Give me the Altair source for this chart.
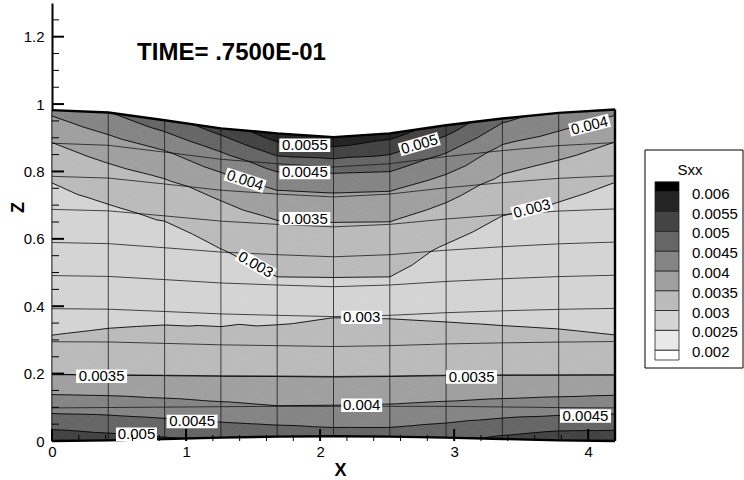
import numpy as np
import pandas as pd
import altair as alt

# ---------------- data ----------------
X_NODES = [0.00, 0.42, 0.84, 1.26, 1.68, 2.10, 2.52, 2.94, 3.36, 3.78, 4.20]
Z_BOTTOM = [0.000, 0.002, 0.006, 0.010, 0.013, 0.014, 0.013, 0.010, 0.006, 0.002, 0.000]
Z_TOP = [0.982, 0.975, 0.952, 0.928, 0.913, 0.902, 0.913, 0.937, 0.957, 0.974, 0.984]
ROW_FRACTION = [0.0, 0.1, 0.2, 0.3, 0.4, 0.5, 0.6, 0.7, 0.8, 0.9, 1.0]

# Sxx at the mesh nodes, one list per mesh column, bottom -> top
SXX_COL_0 = [0.00535, 0.00433, 0.00351, 0.00305, 0.00280, 0.00275, 0.00275, 0.00280, 0.00305, 0.00349, 0.00411]
SXX_COL_1 = [0.00520, 0.00429, 0.00349, 0.00310, 0.00286, 0.00274, 0.00272, 0.00293, 0.00328, 0.00377, 0.00448]
SXX_COL_2 = [0.00505, 0.00420, 0.00349, 0.00315, 0.00289, 0.00272, 0.00270, 0.00306, 0.00341, 0.00396, 0.00480]
SXX_COL_3 = [0.00490, 0.00410, 0.00349, 0.00310, 0.00293, 0.00272, 0.00297, 0.00327, 0.00362, 0.00428, 0.00520]
SXX_COL_4 = [0.00480, 0.00401, 0.00349, 0.00322, 0.00290, 0.00293, 0.00319, 0.00344, 0.00390, 0.00472, 0.00580]
SXX_COL_5 = [0.00470, 0.00402, 0.00349, 0.00324, 0.00299, 0.00292, 0.00318, 0.00343, 0.00390, 0.00466, 0.00590]
SXX_COL_6 = [0.00470, 0.00404, 0.00349, 0.00323, 0.00297, 0.00293, 0.00319, 0.00346, 0.00393, 0.00470, 0.00570]
SXX_COL_7 = [0.00485, 0.00410, 0.00349, 0.00319, 0.00292, 0.00275, 0.00293, 0.00328, 0.00370, 0.00440, 0.00530]
SXX_COL_8 = [0.00510, 0.00418, 0.00349, 0.00314, 0.00288, 0.00273, 0.00272, 0.00301, 0.00337, 0.00386, 0.00460]
SXX_COL_9 = [0.00530, 0.00425, 0.00349, 0.00310, 0.00285, 0.00274, 0.00272, 0.00292, 0.00321, 0.00373, 0.00434]
SXX_COL_10 = [0.00533, 0.00431, 0.00349, 0.00305, 0.00280, 0.00275, 0.00275, 0.00280, 0.00305, 0.00349, 0.00411]

LEVELS = [0.002, 0.0025, 0.003, 0.0035, 0.004, 0.0045, 0.005, 0.0055, 0.006]
LEVEL_TEXT = ["0.002", "0.0025", "0.003", "0.0035", "0.004", "0.0045", "0.005", "0.0055", "0.006"]
BAND_COLORS = ["#ffffff", "#e8e8e8", "#d4d4d4", "#bbbbbb", "#a0a0a0",
               "#858585", "#666666", "#444444", "#242424", "#000000"]

LABEL_TEXT = ["0.0055", "0.0045", "0.0035", "0.004", "0.003", "0.005", "0.004", "0.003",
              "0.003", "0.0035", "0.0035", "0.004", "0.0045", "0.0045", "0.005"]
LABEL_X = [1.886, 1.886, 1.886, 1.44, 1.52, 2.74, 4.01, 3.58,
           2.31, 0.37, 3.13, 2.31, 3.98, 1.045, 0.63]
LABEL_Z = [0.878, 0.797, 0.660, 0.774, 0.524, 0.881, 0.937, 0.690,
           0.367, 0.192, 0.190, 0.106, 0.074, 0.058, 0.020]
LABEL_ANGLE = [0, 0, 0, 18, 30, 344, 346, 345, 0, 0, 0, 0, 0, 0, 0]

X_TICKS = [0, 1, 2, 3, 4]
X_MINOR = [0.2, 0.4, 0.6, 0.8, 1.2, 1.4, 1.6, 1.8, 2.2, 2.4, 2.6, 2.8,
           3.2, 3.4, 3.6, 3.8]
Z_TICKS = [0, 0.2, 0.4, 0.6, 0.8, 1.0, 1.2]
Z_MINOR = [0.05, 0.1, 0.15, 0.25, 0.3, 0.35, 0.45, 0.5, 0.55, 0.65, 0.7, 0.75,
           0.85, 0.9, 0.95, 1.05, 1.1, 1.15, 1.25]

TITLE = "TIME= .7500E-01"
TITLE_POS = (0.635, 1.131)

# ---------------- geometry ----------------
FONT = "Liberation Sans"
W, H = 563, 438

SXX = np.array([SXX_COL_0, SXX_COL_1, SXX_COL_2, SXX_COL_3, SXX_COL_4, SXX_COL_5,
                SXX_COL_6, SXX_COL_7, SXX_COL_8, SXX_COL_9, SXX_COL_10])
xn = np.array(X_NODES)
zb = np.array(Z_BOTTOM)
zt = np.array(Z_TOP)
fr = np.array(ROW_FRACTION)
ZN = zb[:, None] + (zt - zb)[:, None] * fr[None, :]
XN = np.repeat(xn[:, None], len(fr), axis=1)
ni, nj = ZN.shape

# split every quad into four triangles around its centre
tris = []
for i in range(ni - 1):
    for j in range(nj - 1):
        cs = [(i, j), (i + 1, j), (i + 1, j + 1), (i, j + 1)]
        pts = [(XN[a, b], ZN[a, b], SXX[a, b]) for a, b in cs]
        c = tuple(float(np.mean([p[k] for p in pts])) for k in range(3))
        for k in range(4):
            tris.append([pts[k], pts[(k + 1) % 4], c])


def clip(poly, level, keep_above):
    out = []
    n = len(poly)
    for k in range(n):
        a = poly[k]
        b = poly[(k + 1) % n]
        ina = a[2] >= level if keep_above else a[2] <= level
        inb = b[2] >= level if keep_above else b[2] <= level
        if ina:
            out.append(a)
        if ina != inb:
            t = (level - a[2]) / (b[2] - a[2])
            out.append((a[0] + t * (b[0] - a[0]), a[1] + t * (b[1] - a[1]), level))
    return out


edges = [-np.inf] + LEVELS + [np.inf]
poly_rows = []
pid = 0
for tri in tris:
    for b in range(len(BAND_COLORS)):
        poly = tri
        if np.isfinite(edges[b]):
            poly = clip(poly, edges[b], True)
        if len(poly) >= 3 and np.isfinite(edges[b + 1]):
            poly = clip(poly, edges[b + 1], False)
        if len(poly) >= 3:
            for o, p in enumerate(poly):
                poly_rows.append({"pid": pid, "ord": o, "x": p[0], "z": p[1],
                                  "color": BAND_COLORS[b]})
            pid += 1
poly_df = pd.DataFrame(poly_rows)

seg_rows = []
for tri in tris:
    for L in LEVELS:
        pts = []
        for a, b in [(0, 1), (1, 2), (2, 0)]:
            A, B = tri[a], tri[b]
            if (A[2] < L) != (B[2] < L):
                t = (L - A[2]) / (B[2] - A[2])
                pts.append((A[0] + t * (B[0] - A[0]), A[1] + t * (B[1] - A[1])))
        if len(pts) == 2:
            seg_rows.append({"x": pts[0][0], "z": pts[0][1], "x2": pts[1][0], "z2": pts[1][1]})
seg_df = pd.DataFrame(seg_rows)

mesh_rows = []
for i in range(ni):
    for j in range(nj):
        mesh_rows.append({"id": f"v{i}", "ord": j, "x": XN[i, j], "z": ZN[i, j]})
for j in range(1, nj - 1):
    for i in range(ni):
        mesh_rows.append({"id": f"h{j}", "ord": i, "x": XN[i, j], "z": ZN[i, j]})
mesh_df = pd.DataFrame(mesh_rows)

bnd_rows = []
for i in range(ni):
    bnd_rows.append({"id": "top", "ord": i, "x": XN[i, nj - 1], "z": ZN[i, nj - 1]})
    bnd_rows.append({"id": "bottom", "ord": i, "x": XN[i, 0], "z": ZN[i, 0]})
for j in range(nj):
    bnd_rows.append({"id": "right", "ord": j, "x": XN[ni - 1, j], "z": ZN[ni - 1, j]})
bnd_df = pd.DataFrame(bnd_rows)

label_df = pd.DataFrame({"t": LABEL_TEXT, "x": LABEL_X, "z": LABEL_Z, "a": LABEL_ANGLE})
label_df["n"] = label_df["t"].str.len()

# ---------------- chart ----------------
xs = alt.Scale(domain=[0, 4.2], nice=False, zero=False)
zs = alt.Scale(domain=[0, 1.3], nice=False, zero=False)

x_axis = alt.Axis(values=X_TICKS, format="~g", ticks=False, tickSize=0, grid=False,
                  domain=False,
                  labelFont=FONT, labelFontSize=15, labelColor="black", labelPadding=3,
                  labelFlush=False, labelOverlap=False,
                  title="X", titleFont=FONT, titleFontSize=18, titleFontWeight="bold",
                  titleColor="black", titleX=288, titleY=29, titleBaseline="middle",
                  titleAlign="center")
z_axis = alt.Axis(values=Z_TICKS, format="~g", ticks=False, tickSize=0, grid=False,
                  domain=True, domainColor="black", domainWidth=2,
                  labelFont=FONT, labelFontSize=15, labelColor="black", labelPadding=8,
                  labelFlush=False, labelOverlap=False,
                  title="Z", titleFont=FONT, titleFontSize=18, titleFontWeight="bold",
                  titleColor="black", titleX=-34, titleY=204, titleBaseline="middle",
                  titleAlign="center", titleAngle=270)


def X(field="x"):
    return alt.X(f"{field}:Q", scale=xs, axis=x_axis)


def Y(field="z"):
    return alt.Y(f"{field}:Q", scale=zs, axis=z_axis)


bands = alt.Chart(poly_df).mark_line(interpolate="linear-closed", strokeWidth=0.7).encode(
    x=X(), y=Y(),
    detail="pid:N",
    order=alt.Order("ord:Q"),
    fill=alt.Fill("color:N", scale=None),
    stroke=alt.Stroke("color:N", scale=None),
)

mesh = alt.Chart(mesh_df).mark_line(color="#111111", strokeWidth=0.75).encode(
    x=X(), y=Y(), detail="id:N", order=alt.Order("ord:Q"))

contours = alt.Chart(seg_df).mark_rule(color="black", strokeWidth=0.85).encode(
    x=X(), y=Y(), x2="x2:Q", y2="z2:Q")

boundary = alt.Chart(bnd_df).mark_line(color="black", strokeWidth=2.4).encode(
    x=X(), y=Y(), detail="id:N", order=alt.Order("ord:Q"))

S = 2601  # sqrt(S)/2 = 25.5 px per path unit
box6 = alt.Chart(label_df).transform_filter("datum.n == 6").mark_point(
    shape="M-1,-0.263L1,-0.263L1,0.263L-1,0.263Z", size=S, filled=True,
    color="white", opacity=1, strokeWidth=0).encode(
    x=X(), y=Y(), angle=alt.Angle("a:Q", scale=None))
box5 = alt.Chart(label_df).transform_filter("datum.n == 5").mark_point(
    shape="M-0.804,-0.263L0.804,-0.263L0.804,0.263L-0.804,0.263Z", size=S, filled=True,
    color="white", opacity=1, strokeWidth=0).encode(
    x=X(), y=Y(), angle=alt.Angle("a:Q", scale=None))
labels = alt.Chart(label_df).mark_text(font=FONT, fontSize=15, color="black",
                                       align="center", baseline="middle").encode(
    x=X(), y=Y(), angle=alt.Angle("a:Q", scale=None), text="t:N")

ytick_major = alt.Chart(pd.DataFrame({"z": Z_TICKS})).mark_rule(color="black", strokeWidth=2).encode(
    y=Y(), x=alt.value(0), x2=alt.value(12))
ytick_minor = alt.Chart(pd.DataFrame({"z": Z_MINOR})).mark_rule(color="black", strokeWidth=1).encode(
    y=Y(), x=alt.value(0), x2=alt.value(7))
xtick_major = alt.Chart(pd.DataFrame({"x": X_TICKS})).mark_rule(color="black", strokeWidth=2).encode(
    x=X(), y=alt.value(H), y2=alt.value(H - 12))
xtick_minor = alt.Chart(pd.DataFrame({"x": X_MINOR})).mark_rule(color="black", strokeWidth=1).encode(
    x=X(), y=alt.value(H), y2=alt.value(H - 6))

title = alt.Chart(pd.DataFrame({"x": [TITLE_POS[0]], "z": [TITLE_POS[1]], "t": [TITLE]})).mark_text(
    font=FONT, fontSize=24, fontWeight="bold", color="black", align="left", baseline="alphabetic").encode(
    x=X(), y=Y(), text="t:N")

# ---------------- legend (pixel layout, plot-relative) ----------------
LEG_LEFT, LEG_RIGHT, LEG_TOP, LEG_BOTTOM = 593, 691, 147, 365
SW_X1, SW_X2, TXT_X = 603, 627, 640
LEV_Y0, LEV_STEP = 188.7, 19.8   # pixel row of the top level and spacing

nb = len(BAND_COLORS)
nl = len(LEVELS)
k1 = [(nl - 1 - b) if b < nb - 1 else -0.5 for b in range(nb)]
k2 = [(nl - b) if b > 0 else nl - 0.5 for b in range(nb)]
leg_df = pd.DataFrame({
    "color": BAND_COLORS,
    "py1": [LEV_Y0 + k * LEV_STEP for k in k1],
    "py2": [LEV_Y0 + k * LEV_STEP for k in k2],
})
leg_lab_df = pd.DataFrame({"t": LEVEL_TEXT,
                           "py": [LEV_Y0 + (nl - 1 - m) * LEV_STEP for m in range(nl)]})

leg_frame = alt.Chart(pd.DataFrame({"a": [0]})).mark_rect(fill="white", stroke="black", strokeWidth=1).encode(
    x=alt.value(LEG_LEFT), x2=alt.value(LEG_RIGHT), y=alt.value(LEG_TOP), y2=alt.value(LEG_BOTTOM))
leg_title = alt.Chart(pd.DataFrame({"t": ["Sxx"]})).mark_text(
    font=FONT, fontSize=15, color="black", align="center", baseline="middle").encode(
    x=alt.value(638), y=alt.value(167), text="t:N")
leg_sw = alt.Chart(leg_df).mark_rect(stroke="#222222", strokeWidth=0.8).encode(
    x=alt.value(SW_X1), x2=alt.value(SW_X2),
    y=alt.Y("py1:Q", scale=None, axis=None), y2="py2:Q",
    fill=alt.Fill("color:N", scale=None),
)
leg_txt = alt.Chart(leg_lab_df).mark_text(
    font=FONT, fontSize=15, color="black", align="left", baseline="middle", dy=2).encode(
    x=alt.value(TXT_X), y=alt.Y("py:Q", scale=None, axis=None), text="t:N")

chart = alt.layer(bands, mesh, contours, boundary, box6, box5, labels,
                  ytick_major, ytick_minor, xtick_major, xtick_minor, title,
                  leg_frame, leg_title, leg_sw, leg_txt).properties(
    width=W, height=H,
    autosize=alt.AutoSizeParams(type="none"),
    padding={"left": 52, "top": 3, "right": 744 - 52 - W, "bottom": 480 - 3 - H},
    background="white",
).configure_view(strokeWidth=0)

chart.save("out.html", embed_options={"renderer": "svg", "actions": False})
